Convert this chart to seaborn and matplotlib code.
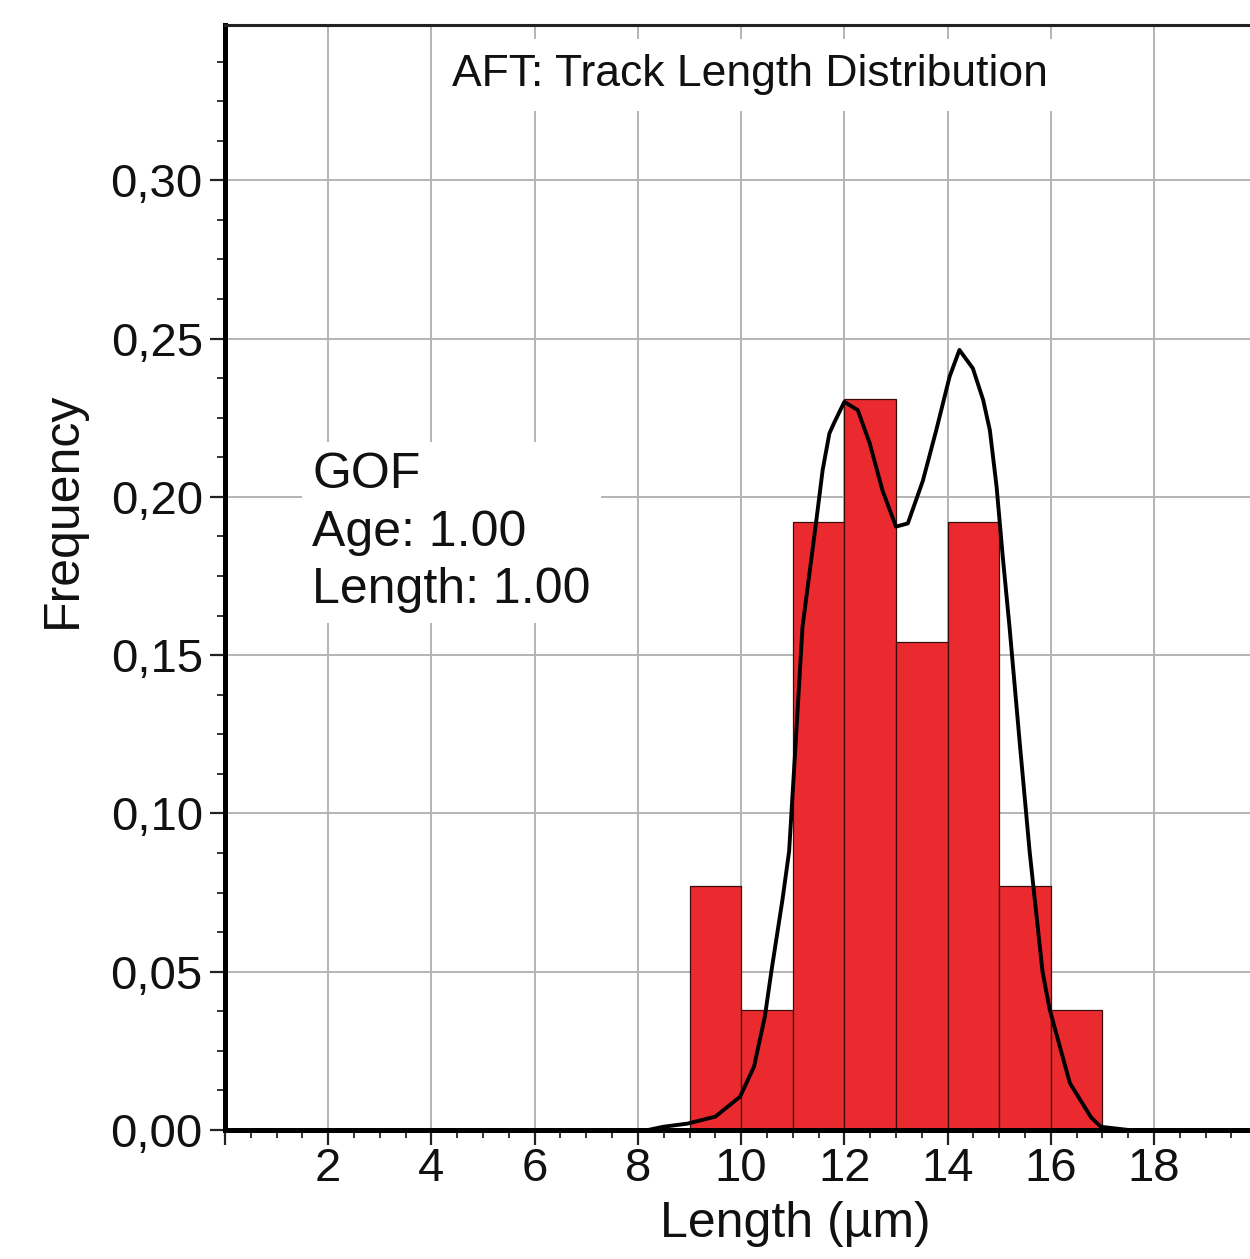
import numpy as np
import pandas as pd
import matplotlib
matplotlib.use("Agg")
import matplotlib.pyplot as plt
from matplotlib.ticker import MultipleLocator, FuncFormatter
import seaborn as sns

# ---- data ----
bin_edges = [9, 10, 11, 12, 13, 14, 15, 16, 17]
bin_freq = [0.077, 0.038, 0.192, 0.231, 0.154, 0.192, 0.077, 0.038]

curve_x = [0.3, 8.2, 8.49, 8.96, 9.5, 9.98, 10.25, 10.46, 10.59, 10.8, 10.93, 11.06,
           11.19, 11.45, 11.58, 11.71, 11.8, 12.0, 12.26, 12.49, 12.74, 13.0, 13.23,
           13.52, 13.78, 14.04, 14.23, 14.49, 14.69, 14.82, 14.95, 15.07, 15.2, 15.4,
           15.59, 15.84, 15.98, 16.37, 16.78, 16.97, 17.5, 19.8]
curve_y = [0.0, 0.0, 0.001, 0.002, 0.0042, 0.0105, 0.020, 0.0358, 0.0505, 0.0726, 0.088, 0.123,
           0.159, 0.1916, 0.2085, 0.220, 0.2233, 0.230, 0.2274, 0.217, 0.202, 0.1906, 0.1916,
           0.205, 0.221, 0.238, 0.2464, 0.2406, 0.2306, 0.221, 0.2032, 0.181, 0.159, 0.122,
           0.088, 0.050, 0.038, 0.0148, 0.004, 0.001, 0.0, 0.0]

title_text = "AFT: Track Length Distribution"
gof_text = "GOF\nAge: 1.00\nLength: 1.00"
xlabel = "Length (µm)"
ylabel = "Frequency"

# ---- style ----
sns.set_theme(style="white")
plt.rcParams["font.family"] = ["Liberation Sans", "DejaVu Sans"]

fig = plt.figure(figsize=(12.5, 12.59), dpi=100)
ax = fig.add_axes([0.18, 0.1025, 0.82, 0.8775])

centers = [(a + b) / 2 for a, b in zip(bin_edges[:-1], bin_edges[1:])]
df_bins = pd.DataFrame({"center": centers, "freq": bin_freq})
sns.histplot(data=df_bins, x="center", weights="freq", bins=bin_edges, stat="count",
             color="#EA2A2E", alpha=1.0, edgecolor="#3a0c0c", linewidth=0.9, ax=ax, zorder=2)

df_curve = pd.DataFrame({"x": curve_x, "y": curve_y})
sns.lineplot(data=df_curve, x="x", y="y", color="black", linewidth=2.8, ax=ax,
             sort=False, zorder=3)

ax.set_xlim(0, 19.86)
ax.set_ylim(0, 0.349)

ax.xaxis.set_major_locator(MultipleLocator(2))
ax.xaxis.set_minor_locator(MultipleLocator(0.5))
ax.yaxis.set_major_locator(MultipleLocator(0.05))
ax.yaxis.set_minor_locator(MultipleLocator(0.0125))
ax.xaxis.set_major_formatter(FuncFormatter(lambda v, p: "" if abs(v) < 1e-9 else f"{v:.0f}"))
ax.yaxis.set_major_formatter(FuncFormatter(lambda v, p: f"{v:.2f}".replace(".", ",")))

ax.set_axisbelow(True)
ax.grid(True, which="major", color="#b4b4b4", linewidth=1.4)
ax.tick_params(axis="both", which="major", direction="out", length=11, width=1.6,
               color="#222222", labelcolor="#111111")
ax.tick_params(axis="x", which="major", labelsize=34, pad=1)
ax.tick_params(axis="y", which="major", labelsize=34, pad=5)
ax.tick_params(axis="both", which="minor", direction="out", length=5.5, width=1.4,
               color="#333333")
ax.tick_params(left=True, bottom=True, which="both")

for side in ["left", "bottom"]:
    ax.spines[side].set_linewidth(3.6)
    ax.spines[side].set_color("black")
ax.spines["top"].set_linewidth(2.2)
ax.spines["top"].set_color("#222222")
ax.spines["right"].set_visible(False)

ax.set_xlabel(xlabel, fontsize=36, color="#111111")
ax.set_ylabel(ylabel, fontsize=36, color="#111111")
ax.xaxis.set_label_coords(0.556, -0.064)
ax.yaxis.set_label_coords(-0.136, 0.561)

ax.text(0.512, 0.955, title_text, transform=ax.transAxes, ha="center", va="center",
        fontsize=32, color="#111111",
        bbox=dict(boxstyle="square,pad=0.35", facecolor="white", edgecolor="none"), zorder=4)
ax.text(0.085, 0.614, gof_text, transform=ax.transAxes, ha="left", va="top",
        fontsize=36, color="#111111", linespacing=1.33,
        bbox=dict(boxstyle="square,pad=0.2", facecolor="white", edgecolor="none"), zorder=4)

fig.savefig("out.png", dpi=100, facecolor="white")
